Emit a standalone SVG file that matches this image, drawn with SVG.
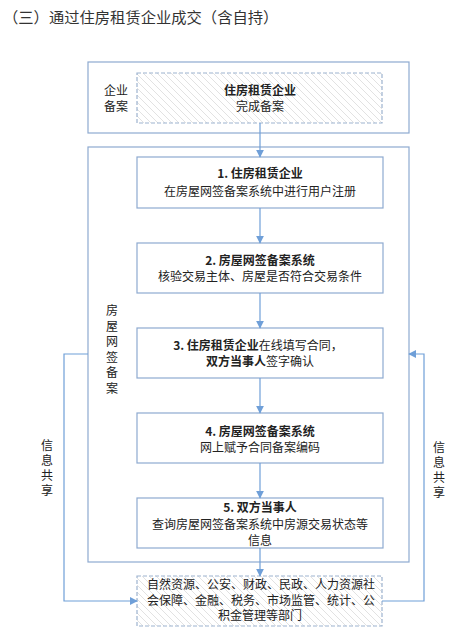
<svg xmlns="http://www.w3.org/2000/svg" width="453" height="642" viewBox="0 0 453 642">
<style>
text{font-family:"Noto Sans CJK SC","Liberation Sans",sans-serif;font-size:12px;fill:#222}
.t{font-size:15.3px;fill:#333}
.b{font-weight:bold}
.m{text-anchor:middle}
.v{writing-mode:vertical-rl;letter-spacing:3px}
.box{fill:#fff;stroke:#8eaad0;stroke-width:1.2}
.dash{fill:url(#hatch);stroke:#9db3cf;stroke-width:1.2;stroke-dasharray:4 2}
.c{fill:none;stroke:#6f9fd8;stroke-width:1.2}
</style>
<defs>
<pattern id="hatch" patternUnits="userSpaceOnUse" width="7" height="7">
<rect width="7" height="7" fill="#fff"/>
<path d="M0,0 L7,7 M-1,6 L1,8 M6,-1 L8,1" stroke="#e2e2e2" stroke-width="1"/>
</pattern>
<marker id="ah" viewBox="0 0 10 10" refX="9" refY="5" markerWidth="8" markerHeight="8" markerUnits="userSpaceOnUse" orient="auto">
<path d="M0,0 L10,5 L0,10 z" fill="#6f9fd8"/>
</marker>
</defs>
<text class="t" x="3" y="23">（三）通过住房租赁企业成交（含自持）</text>

<g id="enterprise-filing">
<rect class="box" x="88" y="62" width="321" height="71"/>
<text class="m" x="116" y="95">企业<tspan x="116" dy="16">备案</tspan></text>
</g>
<g id="enterprise-done">
<rect class="dash" x="137" y="73" width="245" height="50"/>
<text class="m" x="260" y="95"><tspan class="b">住房租赁企业</tspan><tspan x="260" dy="16">完成备案</tspan></text>
</g>

<g id="online-filing">
<rect class="box" x="88" y="147" width="321" height="415"/>
<text class="v" x="112" y="304.5" style="letter-spacing:3.5px">房屋网签备案</text>
</g>

<g id="step1">
<rect class="box" x="137" y="157" width="246" height="51"/>
<text class="m" x="260" y="178"><tspan class="b">1. 住房租赁企业</tspan><tspan x="260" dy="18">在房屋网签备案系统中进行用户注册</tspan></text>
</g>
<g id="step2">
<rect class="box" x="137" y="243" width="246" height="50"/>
<text class="m" x="260" y="265"><tspan class="b">2. 房屋网签备案系统</tspan><tspan x="260" dy="16">核验交易主体、房屋是否符合交易条件</tspan></text>
</g>
<g id="step3">
<rect class="box" x="137" y="328" width="246" height="50"/>
<text class="m" x="258" y="350"><tspan class="b">3. 住房租赁企业</tspan>在线填写合同，<tspan x="260" dy="16" class="b">双方当事人</tspan>签字确认</text>
</g>
<g id="step4">
<rect class="box" x="137" y="413" width="246" height="50"/>
<text class="m" x="260" y="436"><tspan class="b">4. 房屋网签备案系统</tspan><tspan x="260" dy="15.5">网上赋予合同备案编码</tspan></text>
</g>
<g id="step5">
<rect class="box" x="137" y="498" width="246" height="50"/>
<text class="m" x="260" y="512"><tspan class="b">5. 双方当事人</tspan><tspan x="260" dy="17">查询房屋网签备案系统中房源交易状态等</tspan><tspan x="260" dy="15.5">信息</tspan></text>
</g>
<g id="departments">
<rect class="dash" x="137" y="576" width="245" height="50"/>
<text class="m" x="261" y="589">自然资源、公安、财政、民政、人力资源社<tspan x="261" dy="15.5">会保障、金融、税务、市场监管、统计、公</tspan><tspan x="260" dy="15.5">积金管理等部门</tspan></text>
</g>

<g id="connectors">
<line class="c" x1="260" y1="123" x2="260" y2="157" marker-end="url(#ah)"/>
<line class="c" x1="260" y1="208" x2="260" y2="243" marker-end="url(#ah)"/>
<line class="c" x1="260" y1="293" x2="260" y2="328" marker-end="url(#ah)"/>
<line class="c" x1="260" y1="378" x2="260" y2="413" marker-end="url(#ah)"/>
<line class="c" x1="260" y1="463" x2="260" y2="498" marker-end="url(#ah)"/>
<line class="c" x1="260" y1="548" x2="260" y2="576" marker-end="url(#ah)"/>
<polyline class="c" points="88,354 64,354 64,601 137,601" marker-end="url(#ah)"/>
<polyline class="c" points="382,601 424,601 424,354 409,354" marker-end="url(#ah)"/>
<text class="v" x="47" y="439">信息共享</text>
<text class="v" x="439" y="441" style="letter-spacing:3.3px">信息共享</text>
</g>
</svg>
